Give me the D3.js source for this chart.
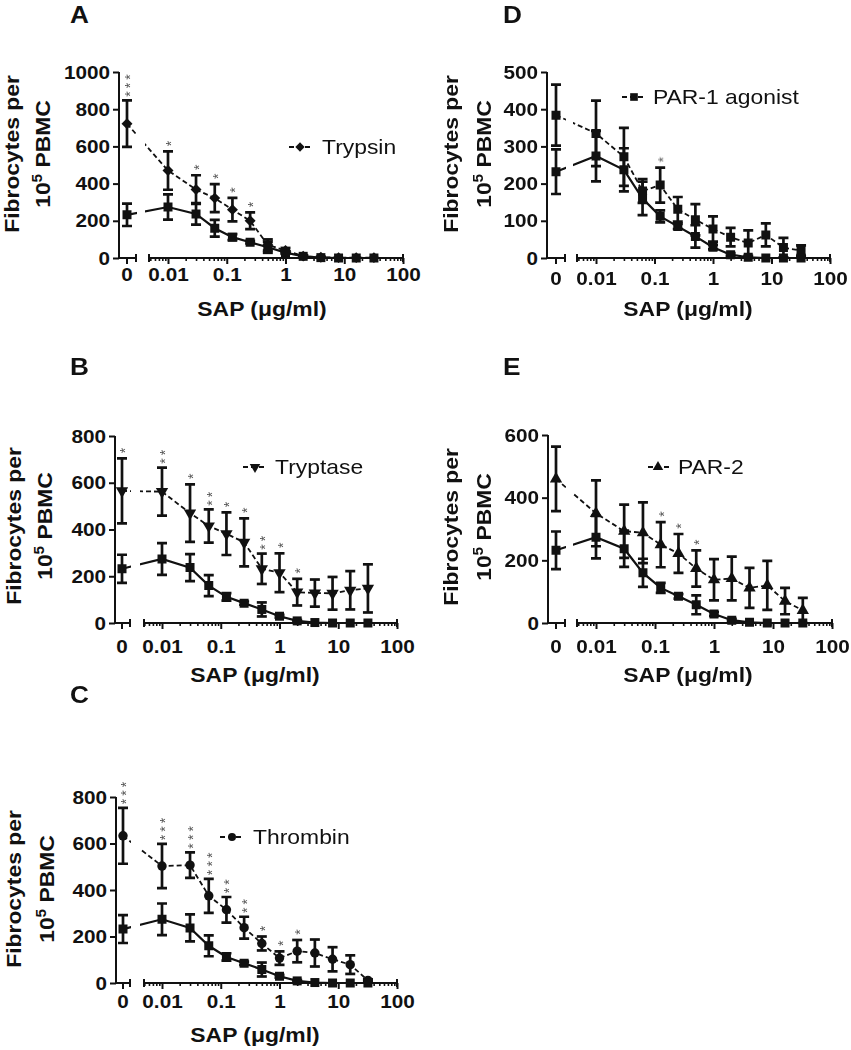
<!DOCTYPE html>
<html><head><meta charset="utf-8">
<script src="https://cdn.jsdelivr.net/npm/d3@7"></script>
<style>body{margin:0;background:#fff} svg{display:block} text{font-family:"Liberation Sans",Arial,sans-serif;fill:#111} .stars{opacity:0.99;will-change:transform}</style>
</head><body>
<svg id="chart" width="851" height="1050"></svg>
<script>
// ---------------- data ----------------
const concentrations = [0, 0.01, 0.03, 0.0625, 0.125, 0.25, 0.5, 1, 2, 4, 8, 16, 32];
const xTickValues = [0.01, 0.1, 1, 10, 100];
const xTickLabels = ["0.01", "0.1", "1", "10", "100"];
const zeroLabel = "0";
const xTitle = "SAP (\u03bcg/ml)";

const controlMean = [232, 274, 237, 160, 112, 85, 58, 29, 9, 2, 0, 0, 0];
const controlErr  = [60, 68, 58, 45, 16, 7, 30, 6, 4, 2, 0, 0, 0];

const trypsinMean  = [722, 470, 368, 322, 260, 200, 70, 40, 10, 4, 2, 2, 2];
const trypsinErr   = [125, 103, 77, 75, 63, 45, 30, 14, 5, 3, 0, 0, 0];
const trypsinStars = [3, 1, 1, 1, 1, 1, 0, 0, 0, 0, 0, 0, 0];

const tryptaseMean  = [565, 562, 470, 415, 382, 345, 232, 215, 132, 128, 127, 140, 148];
const tryptaseErr   = [139, 103, 123, 71, 91, 103, 65, 83, 57, 58, 70, 82, 103];
const tryptaseStars = [1, 2, 1, 2, 1, 1, 2, 1, 1, 0, 0, 0, 0];

const thrombinMean  = [633, 503, 507, 375, 315, 238, 170, 107, 137, 129, 102, 79, 11];
const thrombinErr   = [120, 95, 55, 73, 55, 47, 30, 29, 48, 58, 52, 40, 5];
const thrombinStars = [3, 3, 3, 3, 2, 2, 1, 1, 1, 0, 0, 0, 0];

const par1Mean  = [384, 335, 272, 180, 196, 131, 103, 78, 56, 40, 62, 28, 20];
const par1Err   = [82, 88, 78, 32, 47, 33, 42, 34, 25, 34, 31, 26, 14];
const par1Stars = [0, 0, 0, 0, 1, 0, 0, 0, 0, 0, 0, 0, 0];

const par2Mean  = [460, 350, 293, 288, 250, 222, 174, 138, 142, 112, 120, 70, 40];
const par2Err   = [103, 105, 85, 97, 72, 62, 58, 66, 70, 64, 78, 42, 40];
const par2Stars = [0, 0, 0, 0, 1, 1, 1, 0, 0, 0, 0, 0, 0];

const panelLetters = ["A", "B", "C", "D", "E"];
const seriesNames = ["Trypsin", "Tryptase", "Thrombin", "PAR-1 agonist", "PAR-2"];
const yMaxes = [1000, 800, 800, 500, 600];
const yTickSteps = [200, 200, 200, 100, 200];

// ---------------- layout (positions) ----------------
const layouts = [
  {ax:119, yTop:72,  yBot:258, zx:127, zEnd:136, lStart:149, x001:168, x100:403, tickBase:281, titleBase:316, titleX:262, t1:19,  t2:50,  tcy:154, lx:70,  ly:23,  leg:{x0:289,x1:311,mx:300,y:147,tx:322}},
  {ax:115, yTop:436, yBot:623, zx:122, zEnd:130, lStart:144, x001:162, x100:397, tickBase:653, titleBase:682, titleX:255, t1:21,  t2:52,  tcy:526, lx:70,  ly:375, leg:{x0:243,x1:267,mx:255,y:467,tx:275}},
  {ax:116, yTop:797, yBot:983, zx:123, zEnd:130, lStart:144, x001:162, x100:397, tickBase:1008,titleBase:1042,titleX:255, t1:21,  t2:54,  tcy:889, lx:70,  ly:703, leg:{x0:220,x1:243,mx:232,y:837,tx:253}},
  {ax:547, yTop:72,  yBot:258, zx:556, zEnd:565, lStart:577, x001:596, x100:830, tickBase:285, titleBase:316, titleX:688, t1:458, t2:491, tcy:154, lx:503, ly:23,  leg:{x0:622,x1:644,mx:634,y:97, tx:653}},
  {ax:548, yTop:435, yBot:623, zx:556, zEnd:565, lStart:577, x001:596, x100:832, tickBase:653, titleBase:682, titleX:688, t1:458, t2:491, tcy:527, lx:503, ly:375, leg:{x0:648,x1:670,mx:658,y:467,tx:678}}
];
const series = [
  {mean:trypsinMean,  err:trypsinErr,  stars:trypsinStars,  marker:"diamond"},
  {mean:tryptaseMean, err:tryptaseErr, stars:tryptaseStars, marker:"triDown"},
  {mean:thrombinMean, err:thrombinErr, stars:thrombinStars, marker:"circle"},
  {mean:par1Mean,     err:par1Err,     stars:par1Stars,     marker:"square"},
  {mean:par2Mean,     err:par2Err,     stars:par2Stars,     marker:"triUp"}
];

const svg = d3.select("#chart");
const INK = "#111";

function markerPath(type) {
  switch (type) {
    case "square":  return d3.symbol(d3.symbolSquare, 81)();
    case "diamond": return d3.symbol(d3.symbolSquare, 60)();
    case "circle":  return d3.symbol(d3.symbolCircle, 70)();
    case "triUp":   return d3.symbol(d3.symbolTriangle, 66)();
    case "triDown": return d3.symbol(d3.symbolTriangle, 66)();
  }
}
function markerRot(type) {
  return type === "diamond" ? 45 : (type === "triDown" ? 180 : 0);
}

panelLetters.forEach((letter, i) => {
  const L = layouts[i], S = series[i];
  const g = svg.append("g");
  const y = d3.scaleLinear().domain([0, yMaxes[i]]).range([L.yBot, L.yTop]);
  const xl = d3.scaleLog().domain([0.01, 100]).range([L.x001, L.x100]);
  const xPos = c => c === 0 ? L.zx : xl(c);

  // panel letter
  g.append("text").attr("class", "stretch").attr("x", L.lx).attr("y", L.ly).attr("font-size", 24).attr("font-weight", "bold").text(letter);

  // y axis
  const yTicks = d3.range(0, yMaxes[i] + 1, yTickSteps[i]);
  const yAx = g.append("g").attr("transform", `translate(${L.ax},0)`)
    .call(d3.axisLeft(y).tickValues(yTicks).tickSize(6).tickSizeOuter(0).tickPadding(3).tickFormat(d3.format("d")));
  yAx.selectAll("path,line").attr("stroke", INK).attr("stroke-width", 2);
  yAx.select(".domain").attr("d", `M0,${L.yBot}V${L.yTop}`);
  yAx.selectAll("text").attr("class", "stretch").attr("font-size", 19).attr("font-weight", "bold").attr("fill", INK).attr("font-family", "Liberation Sans, Arial, sans-serif");

  // x axis zero segment
  g.append("line").attr("x1", L.ax).attr("x2", L.zEnd).attr("y1", L.yBot).attr("y2", L.yBot).attr("stroke", INK).attr("stroke-width", 2);
  g.append("line").attr("x1", L.zx).attr("x2", L.zx).attr("y1", L.yBot).attr("y2", L.yBot + 6).attr("stroke", INK).attr("stroke-width", 2);
  g.append("line").attr("x1", L.zEnd).attr("x2", L.zEnd).attr("y1", L.yBot - 4).attr("y2", L.yBot + 4).attr("stroke", INK).attr("stroke-width", 2);
  g.append("text").attr("class", "stretch").attr("x", L.zx).attr("y", L.tickBase).attr("text-anchor", "middle").attr("font-size", 19).attr("font-weight", "bold").text(zeroLabel);

  // x axis log segment
  const logMin = xl.invert(L.lStart);
  const minor = [];
  for (let e = -3; e < 2; e++) for (let m = 2; m <= 9; m++) { const v = m * Math.pow(10, e); if (v > logMin && v < 100) minor.push(v); }
  const xMinor = g.append("g").attr("transform", `translate(0,${L.yBot})`)
    .call(d3.axisBottom(xl).tickValues(minor).tickSize(3).tickSizeOuter(0).tickFormat(""));
  xMinor.select(".domain").attr("d", `M${L.lStart},0H${L.x100}`);
  xMinor.selectAll("path,line").attr("stroke", INK).attr("stroke-width", 1.6);
  xMinor.select(".domain").attr("stroke-width", 2);
  const xMajor = g.append("g").attr("transform", `translate(0,${L.yBot})`)
    .call(d3.axisBottom(xl).tickValues(xTickValues).tickSize(6).tickSizeOuter(0).tickFormat((d, k) => xTickLabels[k]));
  xMajor.select(".domain").remove();
  xMajor.selectAll("line").attr("stroke", INK).attr("stroke-width", 2);
  xMajor.selectAll("text").attr("class", "stretch").attr("y", L.tickBase - L.yBot).attr("dy", 0).attr("font-size", 19).attr("font-weight", "bold").attr("fill", INK).attr("font-family", "Liberation Sans, Arial, sans-serif");
  g.append("line").attr("x1", L.lStart).attr("x2", L.lStart).attr("y1", L.yBot - 4).attr("y2", L.yBot + 4).attr("stroke", INK).attr("stroke-width", 2);
  g.append("line").attr("x1", L.x100).attr("x2", L.x100).attr("y1", L.yBot - 4).attr("y2", L.yBot + 4).attr("stroke", INK).attr("stroke-width", 2);

  // axis titles
  g.append("text").attr("class", "stretch").attr("x", L.titleX).attr("y", L.titleBase).attr("text-anchor", "middle").attr("font-size", 21).attr("font-weight", "bold").text(xTitle);
  const yt = g.append("g").attr("transform", `translate(0,${L.tcy}) rotate(-90)`);
  yt.append("text").attr("class", "stretch").attr("x", 0).attr("y", L.t1).attr("text-anchor", "middle").attr("font-size", 21).attr("font-weight", "bold").text("Fibrocytes per");
  const t2 = yt.append("text").attr("class", "stretch").attr("x", 0).attr("y", L.t2).attr("text-anchor", "middle").attr("font-size", 21).attr("font-weight", "bold");
  t2.append("tspan").text("10");
  t2.append("tspan").attr("dy", -8).attr("font-size", 14).text("5");
  t2.append("tspan").attr("dy", 8).text(" PBMC");

  // clip for axis gap
  const cid = "clip" + i;
  const cp = g.append("clipPath").attr("id", cid);
  cp.append("rect").attr("x", L.ax).attr("y", L.yTop - 80).attr("width", L.zEnd + 1 - L.ax).attr("height", L.yBot - L.yTop + 90);
  cp.append("rect").attr("x", L.lStart - 4).attr("y", L.yTop - 80).attr("width", L.x100 - L.lStart + 20).attr("height", L.yBot - L.yTop + 90);
  const plot = g.append("g").attr("clip-path", `url(#${cid})`);

  const lineGen = d3.line().x(d => xPos(d.c)).y(d => y(d.v));
  const ctrl = concentrations.map((c, k) => ({c, v: controlMean[k], e: controlErr[k]}));
  const trt = concentrations.map((c, k) => ({c, v: S.mean[k], e: S.err[k], s: S.stars[k]}));

  plot.append("path").attr("d", lineGen(ctrl)).attr("fill", "none").attr("stroke", INK).attr("stroke-width", 2.2);
  plot.append("path").attr("d", lineGen(trt)).attr("fill", "none").attr("stroke", INK).attr("stroke-width", 1.8).attr("stroke-dasharray", "5,3");

  function errBars(data) {
    data.filter(d => d.e > 2).forEach(d => {
      const x = xPos(d.c), top = y(d.v + d.e), bot = y(Math.max(0, d.v - d.e));
      plot.append("line").attr("x1", x).attr("x2", x).attr("y1", top).attr("y2", bot).attr("stroke", INK).attr("stroke-width", 2.7);
      [top, bot].forEach(yy => plot.append("line").attr("x1", x - 5).attr("x2", x + 5).attr("y1", yy).attr("y2", yy).attr("stroke", INK).attr("stroke-width", 2.7));
    });
  }
  errBars(trt);
  errBars(ctrl);

  plot.selectAll(".mt").data(trt).enter().append("path")
    .attr("d", markerPath(S.marker))
    .attr("transform", d => `translate(${xPos(d.c)},${y(d.v)}) rotate(${markerRot(S.marker)})`)
    .attr("fill", INK);
  plot.selectAll(".mc").data(ctrl).enter().append("path")
    .attr("d", markerPath("square"))
    .attr("transform", d => `translate(${xPos(d.c)},${y(d.v)})`)
    .attr("fill", INK);

  // significance stars: one text per point, stacked vertically
  const starLayer = g.append("g").attr("class", "stars");
  trt.filter(d => d.s > 0).forEach(d => {
    const cy = y(d.v + d.e) - 8 - (d.s - 1) * 8.5 / 2;
    starLayer.append("text")
      .attr("transform", `translate(${xPos(d.c)},${cy}) rotate(-90)`)
      .attr("x", 0).attr("y", 8).attr("text-anchor", "middle")
      .attr("font-size", 14).attr("letter-spacing", d.s > 1 ? 3.1 : 0)
      .style("fill", "#555")
      .text("*".repeat(d.s));
  });

  // legend
  const lg = g.append("g");
  lg.append("line").attr("x1", L.leg.x0).attr("x2", L.leg.x1).attr("y1", L.leg.y).attr("y2", L.leg.y)
    .attr("stroke", INK).attr("stroke-width", 1.8).attr("stroke-dasharray", "5,3");
  lg.append("path").attr("d", markerPath(S.marker)).attr("transform", `translate(${L.leg.mx},${L.leg.y}) rotate(${markerRot(S.marker)}) scale(0.85)`).attr("fill", INK);
  lg.append("text").attr("class", "stretch").attr("x", L.leg.tx).attr("y", L.leg.y + 7).attr("font-size", 21).text(seriesNames[i]);
});

// widen glyphs slightly to match the reference's wider typeface
svg.selectAll("text.stretch").each(function () {
  const len = this.getComputedTextLength();
  d3.select(this).attr("textLength", (len * 1.09).toFixed(1)).attr("lengthAdjust", "spacingAndGlyphs");
});
</script>
</body></html>
